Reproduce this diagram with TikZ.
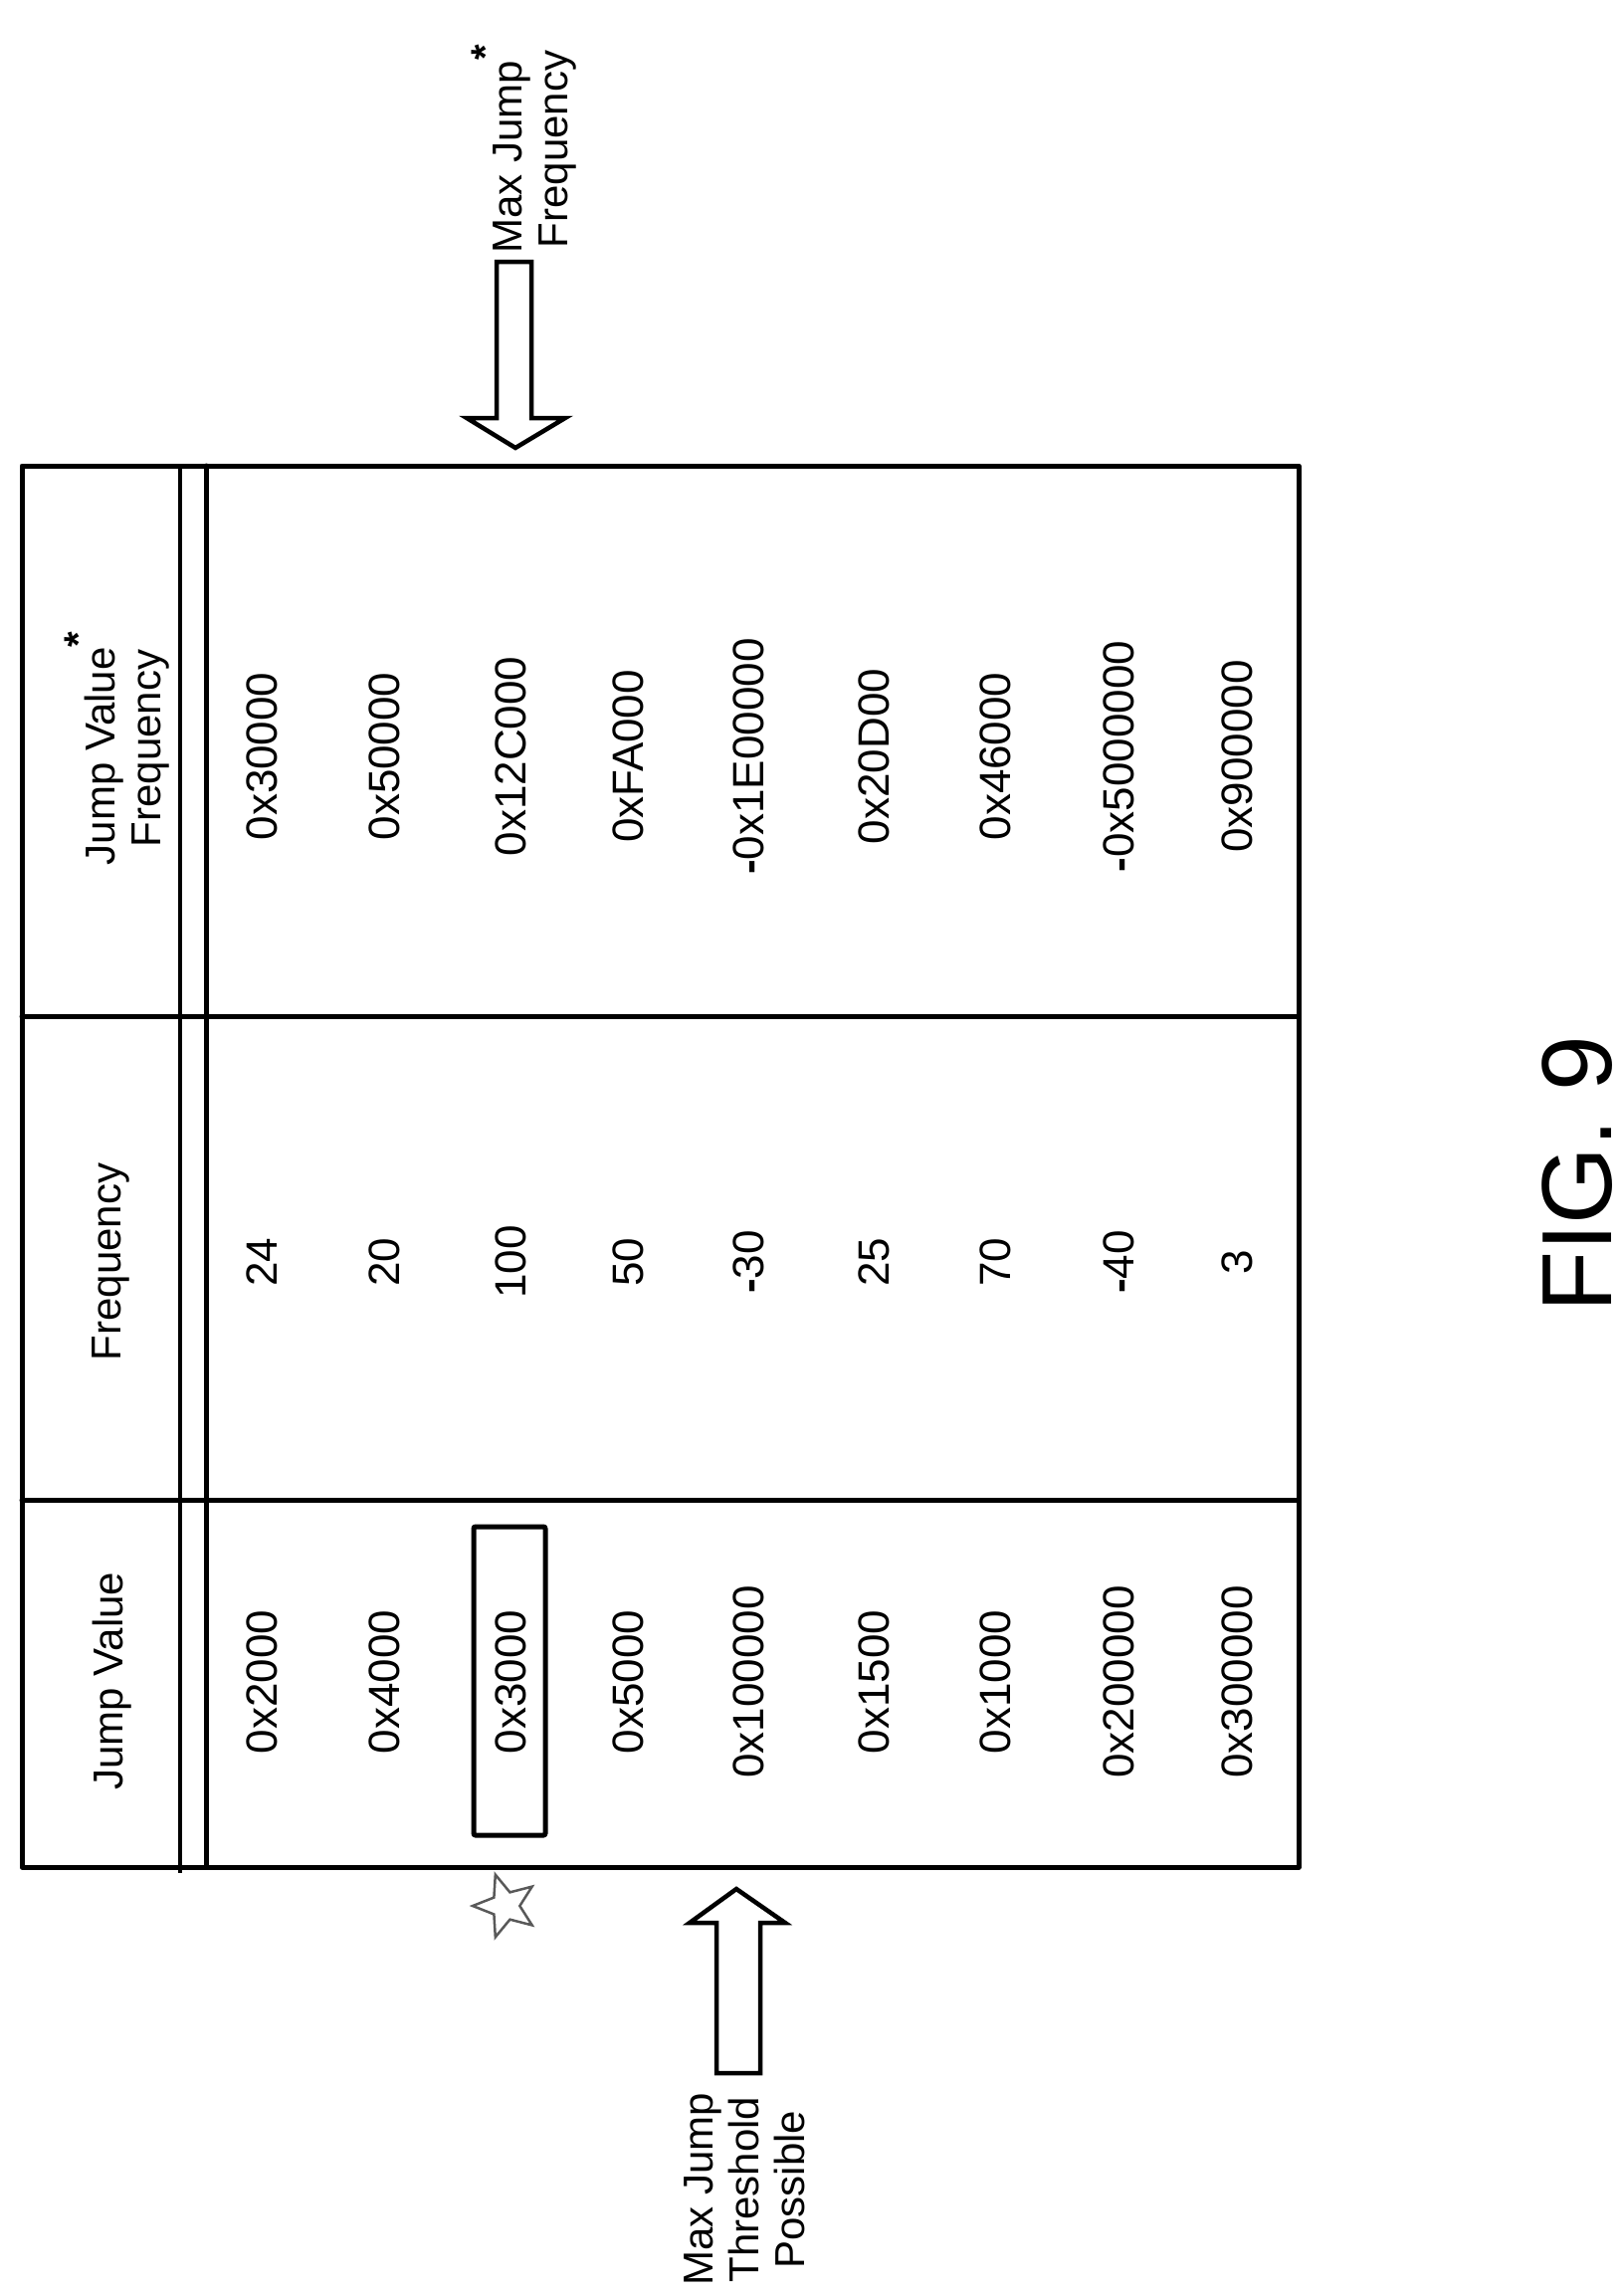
\documentclass[tikz,border=0pt]{standalone}
\usepackage{fontspec}
\setmainfont{Liberation Sans}
\usetikzlibrary{shapes.geometric}
\newcommand{\myast}{\raisebox{0.55em}{\fontsize{40}{40}\selectfont\textbf{*}}}
\begin{document}
\begin{tikzpicture}[x=1pt,y=1pt,
  grid/.style={line width=5pt,line cap=round,line join=round},
  cell/.style={rotate=90,font=\fontsize{44}{50}\selectfont,inner sep=0pt,align=center},
  lbl/.style={rotate=90,font=\fontsize{42}{46}\selectfont,inner sep=0pt,align=center},
  fat/.style={line width=4.5pt,line join=miter,fill=white}]
\useasboundingbox (0,0) rectangle (1630,-2307);
% table
\draw[grid] (22,-468) rectangle (1305,-1876);
\draw[grid] (207,-468) -- (207,-1876);
\draw[line width=4.5pt] (181,-468) -- (181,-1882);
\draw[grid] (22,-1021) -- (1305,-1021);
\draw[grid] (22,-1507) -- (1305,-1507);
% headers
\node[lbl] (h1) at (113,-1689) {Jump Value};
\node[lbl] (h2) at (111,-1268) {Frequency};
\node[lbl] (h3) at (118,-752) {Jump Value\myast\\Frequency};
% rows
\foreach \x/\a/\b/\c [count=\i] in {263/0x2000/24/0x30000, 386/0x4000/20/0x50000, 513/0x3000/100/0x12C000, 631/0x5000/50/0xFA000, 752/0x100000/\textbf{-}30/\textbf{-}0x1E00000, 878/0x1500/25/0x20D00, 1000/0x1000/70/0x46000, 1124/0x200000/\textbf{-}40/\textbf{-}0x5000000, 1243/0x300000/3/0x900000}{
  \node[cell] (a\i) at (\x,-1690) {\a};
  \node[cell] (b\i) at (\x,-1268) {\b};
  \node[cell] (c\i) at (\x,-760) {\c};
}
\node[draw,line width=5pt,rounded corners=2pt,minimum width=310pt,minimum height=72pt,rotate=90] (sel) at (512,-1689) {};
% star
\node[star,star points=5,star point ratio=2.3,draw=gray!70!black,line width=2.5pt,minimum size=66pt,rotate=90,inner sep=0pt] (st) at (508,-1915) {};
% bottom up arrow
\draw[fat] (740,-1898) -- (789,-1932) -- (764,-1932) -- (764,-2083) -- (720,-2083) -- (720,-1932) -- (693,-1932) -- cycle;
\coordinate (upA) at (740,-1898);
\node[lbl] (lmj) at (748,-2200) {Max Jump\\Threshold\\Possible};
% top down arrow
\draw[fat] (518,-450) -- (568,-420) -- (534,-420) -- (534,-263) -- (499,-263) -- (499,-420) -- (469,-420) -- cycle;
\coordinate (dnA) at (518,-450);
\node[lbl] (lmf) at (527,-150) {Max Jump\myast\\Frequency};
% figure label
\node[rotate=90,font=\fontsize{100}{100}\selectfont,inner sep=0pt] (fig) at (1585,-1180) {FIG. 9};
\end{tikzpicture}
\end{document}
